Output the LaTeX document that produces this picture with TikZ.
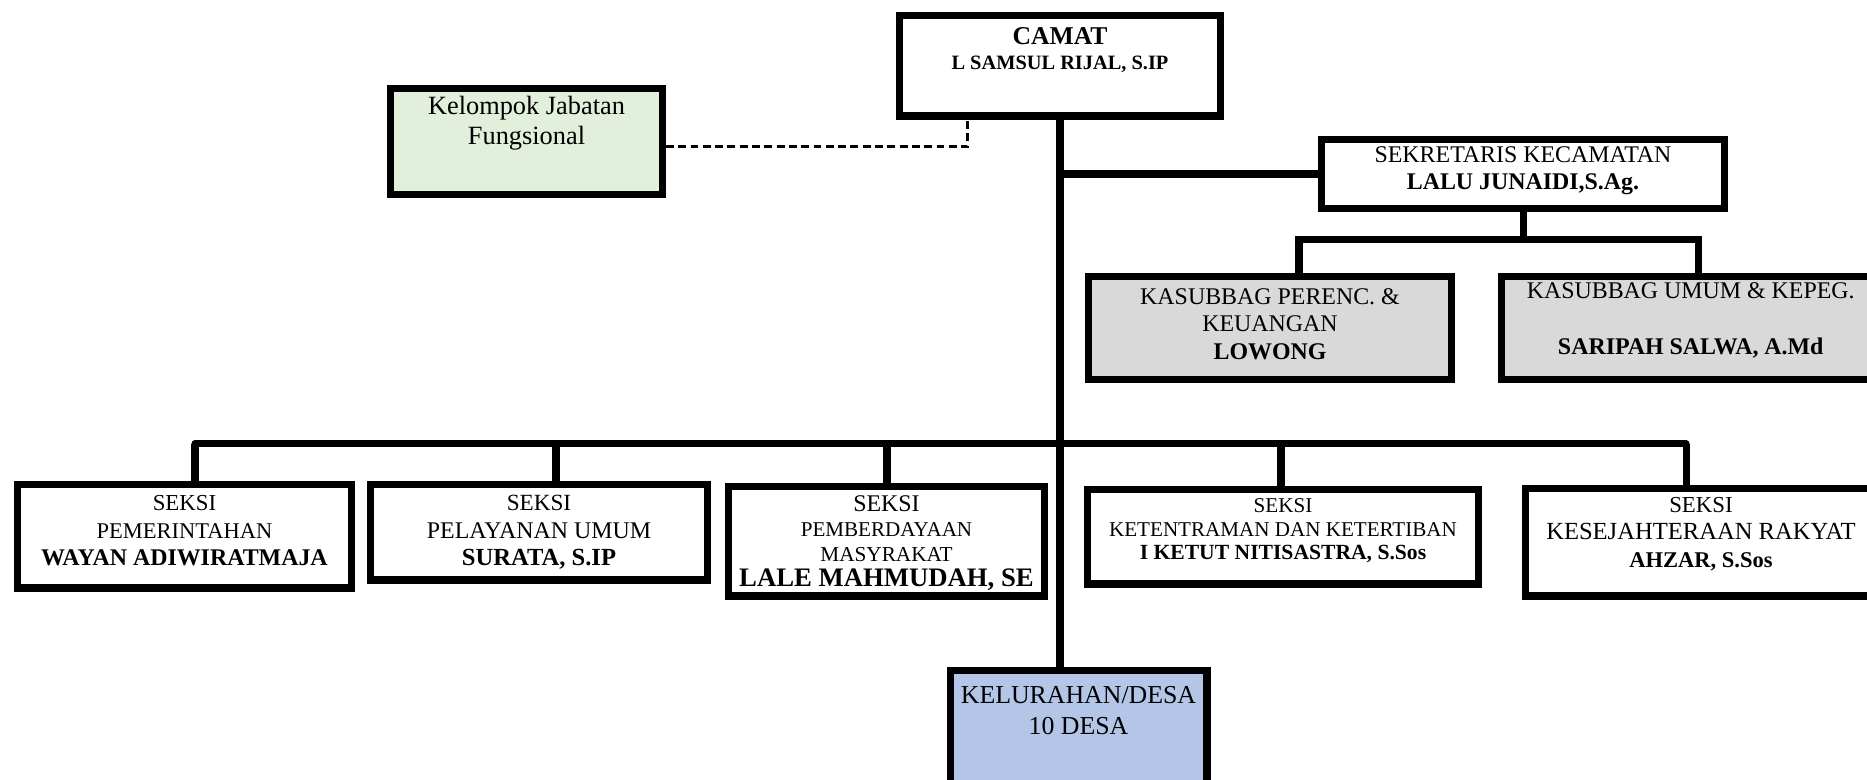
\documentclass[tikz,border=0pt]{standalone}
\usepackage{fontspec}
\setmainfont{Liberation Serif}
\usepackage{xcolor}
\usetikzlibrary{positioning}

\definecolor{kjfgreen}{HTML}{E2EFDA}
\definecolor{kasgray}{HTML}{D9D9D9}
\definecolor{kelblue}{HTML}{B4C6E7}

\newcommand{\fsz}[2]{\fontsize{#1}{#2}\selectfont}

\begin{document}
\begin{tikzpicture}[x=0.02cm, y=-0.02cm,
    box/.style={draw, line width=4pt, inner sep=0pt},
    txt/.style={inner sep=0pt, align=center},
    conn/.style={line width=4pt},
    dashln/.style={line width=1.7pt, dash pattern=on 4.5pt off 2.5pt}]
            \fill[white] (0,0) rectangle (1867,779);
            \clip (0,0) rectangle (1867,779);

            % boxes
            \node[box, minimum width=6.42cm, minimum height=2.01cm] (camat) at (1060,65.75) {};
            \node[box, fill=kjfgreen, minimum width=5.44cm, minimum height=2.12cm] (kjf) at (526.5,141.5) {};
            \node[box, minimum width=8.06cm, minimum height=1.38cm] (sekcam) at (1523,174) {};
            \node[box, fill=kasgray, minimum width=7.26cm, minimum height=2.06cm] (kasren) at (1270,328) {};
            \node[box, fill=kasgray, minimum width=7.56cm, minimum height=2.06cm] (kasum) at (1690.75,328) {};
            \node[box, minimum width=6.70cm, minimum height=2.08cm] (spem) at (184.5,536) {};
            \node[box, minimum width=6.76cm, minimum height=1.92cm] (spu) at (539,532) {};
            \node[box, minimum width=6.34cm, minimum height=2.20cm] (spm) at (886.5,541) {};
            \node[box, minimum width=7.84cm, minimum height=1.90cm] (stt) at (1283,536.5) {};
            \node[box, minimum width=7.04cm, minimum height=2.16cm] (skr) at (1701,542) {};
            \node[box, fill=kelblue, minimum width=5.14cm, minimum height=2.80cm] (kel) at (1078.5,740) {};

            % texts
            \node[txt, font=\fsz{14.6}{14}, below=8.6pt of camat.north] (camat-t) {\textbf{CAMAT}\\ \fsz{11.6}{14}\textbf{L SAMSUL RIJAL, S.IP}};
            \node[txt, font=\fsz{15}{17}, below=6.3pt of kjf.north] (kjf-t) {Kelompok Jabatan\\ Fungsional};
            \node[txt, font=\fsz{13.6}{15.4}, below=6.1pt of sekcam.north] (sekcam-t) {SEKRETARIS KECAMATAN\\ \textbf{LALU JUNAIDI,S.Ag.}};
            \node[txt, font=\fsz{13.6}{15.6}, below=8.5pt of kasren.north] (kasren-t) {KASUBBAG PERENC. \&\\ KEUANGAN\\ \textbf{LOWONG}};
            \node[txt, font=\fsz{13.6}{16}, below=5.1pt of kasum.north] (kasum-t) {KASUBBAG UMUM \& KEPEG.\\[16pt] \textbf{SARIPAH SALWA, A.Md}};
            \node[txt, font=\fsz{13}{15.6}, below=8.4pt of spem.north] (spem-t) {SEKSI\\ \fsz{12.8}{15.6}PEMERINTAHAN\\ \fsz{13.6}{15.6}\textbf{WAYAN ADIWIRATMAJA}};
            \node[txt, font=\fsz{13.2}{15.6}, below=8.2pt of spu.north] (spu-t) {SEKSI\\ \fsz{13.6}{15.6}PELAYANAN UMUM\\ \fsz{14}{15.6}\textbf{SURATA, S.IP}};
            \node[txt, font=\fsz{13.6}{14.2}, below=7.3pt of spm.north] (spm-t) {SEKSI\\ \fsz{12}{14.2}PEMBERDAYAAN\\ \fsz{12.1}{14.2}MASYRAKAT\\ \fsz{15.2}{16}\textbf{LALE MAHMUDAH, SE}};
            \node[txt, font=\fsz{12}{13.6}, below=7pt of stt.north] (stt-t) {SEKSI\\ \fsz{12}{13.6}KETENTRAMAN DAN KETERTIBAN\\ \fsz{12.3}{14.5}\textbf{I KETUT NITISASTRA, S.Sos}};
            \node[txt, font=\fsz{13}{15.6}, below=7.1pt of skr.north] (skr-t) {SEKSI\\ \fsz{14}{15.6}KESEJAHTERAAN RAKYAT\\ \fsz{12.8}{16}\textbf{AHZAR, S.Sos}};
            \node[txt, font=\fsz{14.7}{17.6}, below=10.9pt of kel.north] (kel-t) {KELURAHAN/DESA\\ 10 DESA};

            % lines
            \draw[conn] (camat.south) -- (camat.south |- kel.north);
            \draw[conn] (camat.south |- sekcam.west) -- (sekcam.west);
            \draw[dashln] ([yshift=-3pt]kjf.east) -| ([xshift=-52.4pt]camat.south);

            \coordinate (kbL) at (1299,239.5);
            \coordinate (kbR) at (1698,239.5);
            \draw[conn] (sekcam.south) -- (sekcam.south |- kbL);
            \draw[conn] (kbL |- kasren.north) -- (kbL) -- (kbR) -- (kbR |- kasum.north);

            \foreach \n/\x in {spem/195, spu/556, spm/887, stt/1281, skr/1686} {
                \coordinate (\n-up) at (\x,443.5);
                \draw[conn] (\n-up) -- (\n-up |- \n.north);
            }
            \draw[conn, line cap=round] (spem-up) -- (skr-up);
\end{tikzpicture}
\end{document}
